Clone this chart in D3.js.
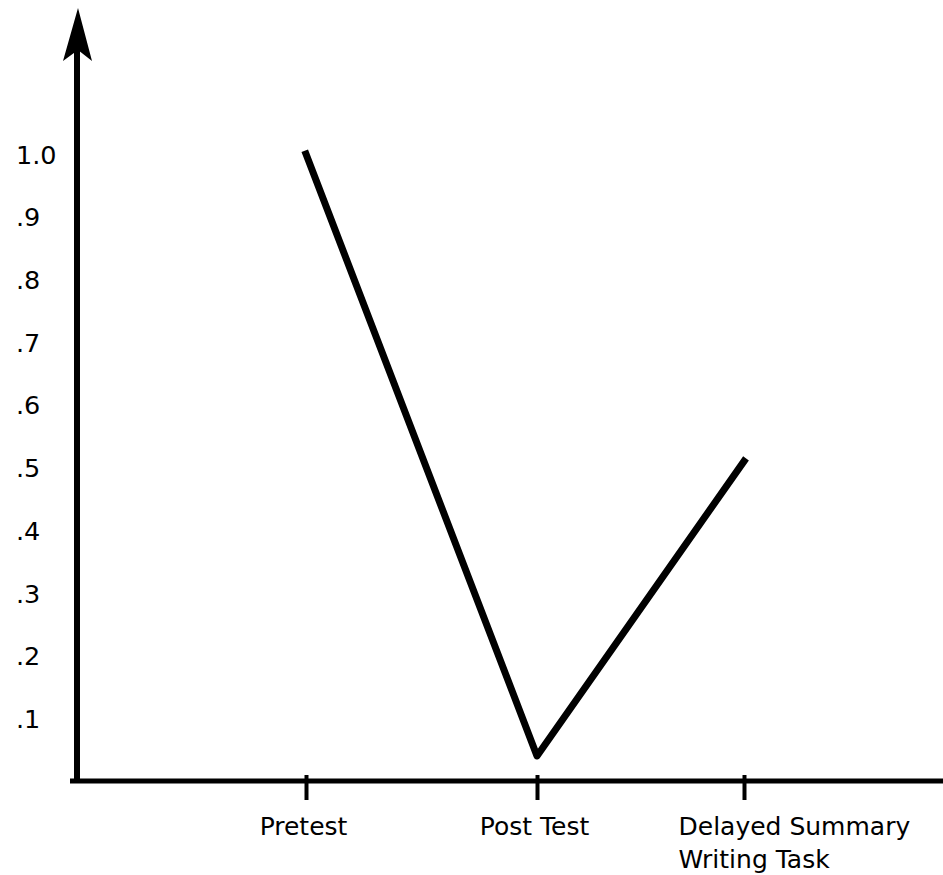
<!DOCTYPE html>
<html>
<head>
<meta charset="utf-8">
<script src="https://cdn.jsdelivr.net/npm/d3@7"></script>
<style>
  html, body { margin: 0; padding: 0; background: #fff; }
  svg { display: block; }
  text { font-family: "DejaVu Sans", Verdana, sans-serif; fill: #000; }
</style>
</head>
<body>
<svg id="chart" width="943" height="875"></svg>
<script>
// data
const categories = ["Pretest", "Post Test", "Delayed Summary\nWriting Task"];
const scores = [1.0, 0.04, 0.51];
const yTickValues = [0.1, 0.2, 0.3, 0.4, 0.5, 0.6, 0.7, 0.8, 0.9, 1.0];
const yTickLabels = [".1", ".2", ".3", ".4", ".5", ".6", ".7", ".8", ".9", "1.0"];

const svg = d3.select("#chart");

const axisX = 77;   // where the y axis sits
const axisY = 781;  // where the x axis sits

// categories are not evenly spaced in the original drawing
const x = d3.scaleLinear()
    .domain([0, 1, 2])
    .range([306, 537, 744]);

const y = d3.scaleLinear()
    .domain([0, 1])
    .range([axisY, 154]);

// y axis labels (no tick marks)
const yAxis = d3.axisLeft(y)
    .tickValues(yTickValues)
    .tickSize(0)
    .tickFormat((d, i) => yTickLabels[i]);

const gy = svg.append("g")
    .attr("transform", `translate(${axisX},0)`)
    .call(yAxis);
gy.select(".domain").remove();
gy.selectAll("text")
    .attr("x", -61)
    .attr("dy", "0.36em")
    .attr("text-anchor", "start")
    .style("font-size", "25.5px")
    .style("font-family", "'DejaVu Sans', sans-serif");

// y axis line with arrow head
svg.append("line")
    .attr("x1", axisX).attr("x2", axisX)
    .attr("y1", axisY + 2).attr("y2", 40)
    .attr("stroke", "#000")
    .attr("stroke-width", 6);

svg.append("path")
    .attr("d", `M${axisX + 1},8 L${axisX + 15},61 L${axisX + 1},50 L${axisX - 14},61 Z`)
    .attr("fill", "#000");

// x axis
const xAxis = d3.axisBottom(x)
    .tickValues([0, 1, 2])
    .tickSize(19)
    .tickFormat((d) => categories[d]);

const gx = svg.append("g")
    .attr("transform", `translate(0,${axisY})`)
    .call(xAxis);
gx.select(".domain").remove();
gx.selectAll(".tick line")
    .attr("y1", -6)
    .attr("stroke", "#000")
    .attr("stroke-width", 4);

gx.selectAll(".tick text").each(function(d) {
    const t = d3.select(this);
    const lines = categories[d].split("\n");
    t.text(null)
        .attr("y", 0)
        .attr("dy", null)
        .style("font-size", "25px")
        .style("font-family", "'DejaVu Sans', sans-serif");
    // the two-line label is left aligned and sits right of its tick
    if (lines.length > 1) {
        t.attr("text-anchor", "start");
    } else {
        t.attr("text-anchor", "middle");
    }
    lines.forEach((ln, i) => {
        t.append("tspan")
            .attr("x", lines.length > 1 ? -66 : -3)
            .attr("y", 54 + i * 33)
            .text(ln);
    });
});

svg.append("line")
    .attr("x1", 70).attr("x2", 943)
    .attr("y1", axisY).attr("y2", axisY)
    .attr("stroke", "#000")
    .attr("stroke-width", 5);

// the data line
const line = d3.line()
    .x((d, i) => x(i))
    .y((d) => y(d));

svg.append("path")
    .datum(scores)
    .attr("d", line)
    .attr("fill", "none")
    .attr("stroke", "#000")
    .attr("stroke-width", 7)
    .attr("stroke-linecap", "square")
    .attr("stroke-linejoin", "round");
</script>
</body>
</html>
